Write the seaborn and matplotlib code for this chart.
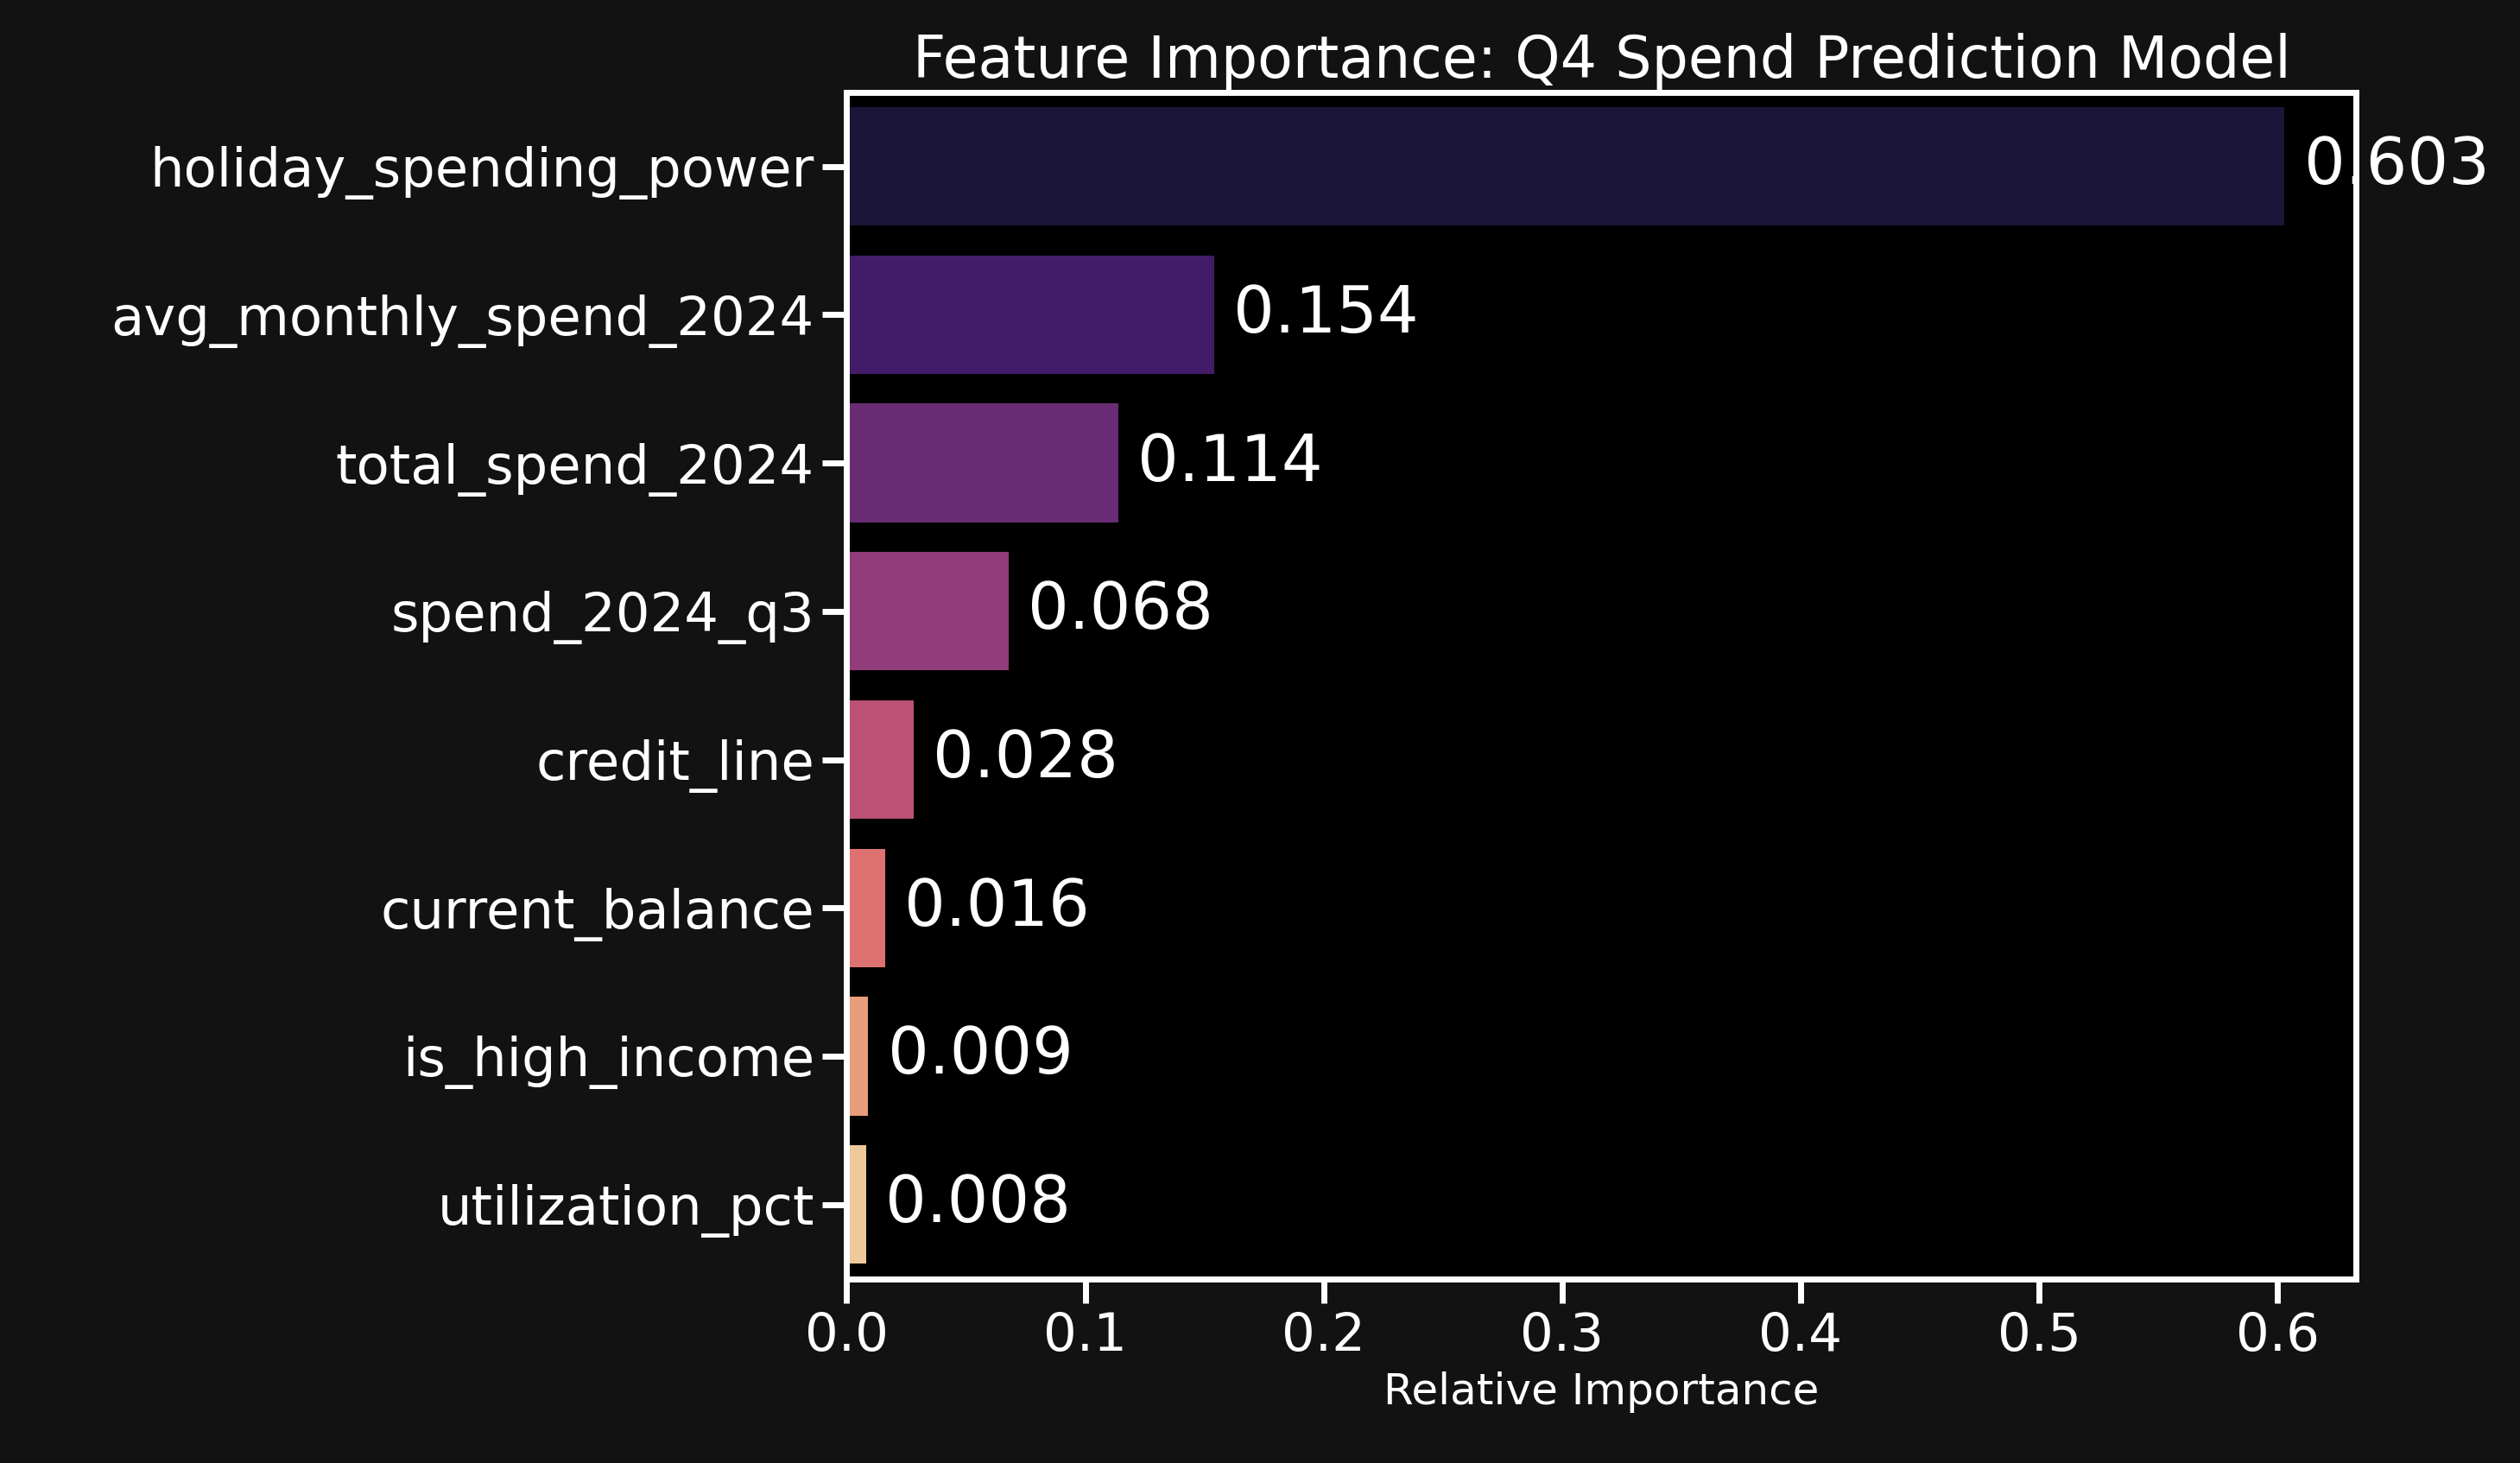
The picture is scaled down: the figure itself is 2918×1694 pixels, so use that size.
import matplotlib
matplotlib.use("Agg")
import matplotlib.pyplot as plt
import seaborn as sns
import pandas as pd

features = ["holiday_spending_power", "avg_monthly_spend_2024", "total_spend_2024",
            "spend_2024_q3", "credit_line", "current_balance", "is_high_income", "utilization_pct"]
importance = [0.603, 0.154, 0.114, 0.068, 0.028, 0.016, 0.009, 0.008]

sns.set_theme(context="talk", style="dark")
plt.rcParams['font.family'] = ['DejaVu Sans']
df = pd.DataFrame({"feature": features, "importance": importance})

fig = plt.figure(figsize=(14.59, 8.47), dpi=200, facecolor="#121212")
ax = fig.add_axes([0.336, 0.126, 0.599, 0.811])
ax.set_facecolor("black")
sns.barplot(data=df, x="importance", y="feature", hue="feature", palette="magma",
            legend=False, ax=ax, linewidth=0, edgecolor="none")
for c in ax.containers:
    ax.bar_label(c, fmt="%.3f", padding=8, color="white", fontsize=27)
ax.set_title("Feature Importance: Q4 Spend Prediction Model", color="white", fontsize=24, pad=6)
ax.set_xlabel("Relative Importance", color="white", fontsize=18, labelpad=4)
ax.set_ylabel("")
ax.tick_params(axis="y", labelsize=22.5)
ax.tick_params(axis="x", labelsize=22)
ax.tick_params(colors="white", labelcolor="white", length=10, width=2.5, bottom=True, left=True)
for s in ax.spines.values():
    s.set_visible(True)
    s.set_color("white")
    s.set_linewidth(2.5)
ax.set_xlim(0, 0.633)
ax.grid(False)
fig.savefig("out.png", dpi=200, facecolor=fig.get_facecolor())
